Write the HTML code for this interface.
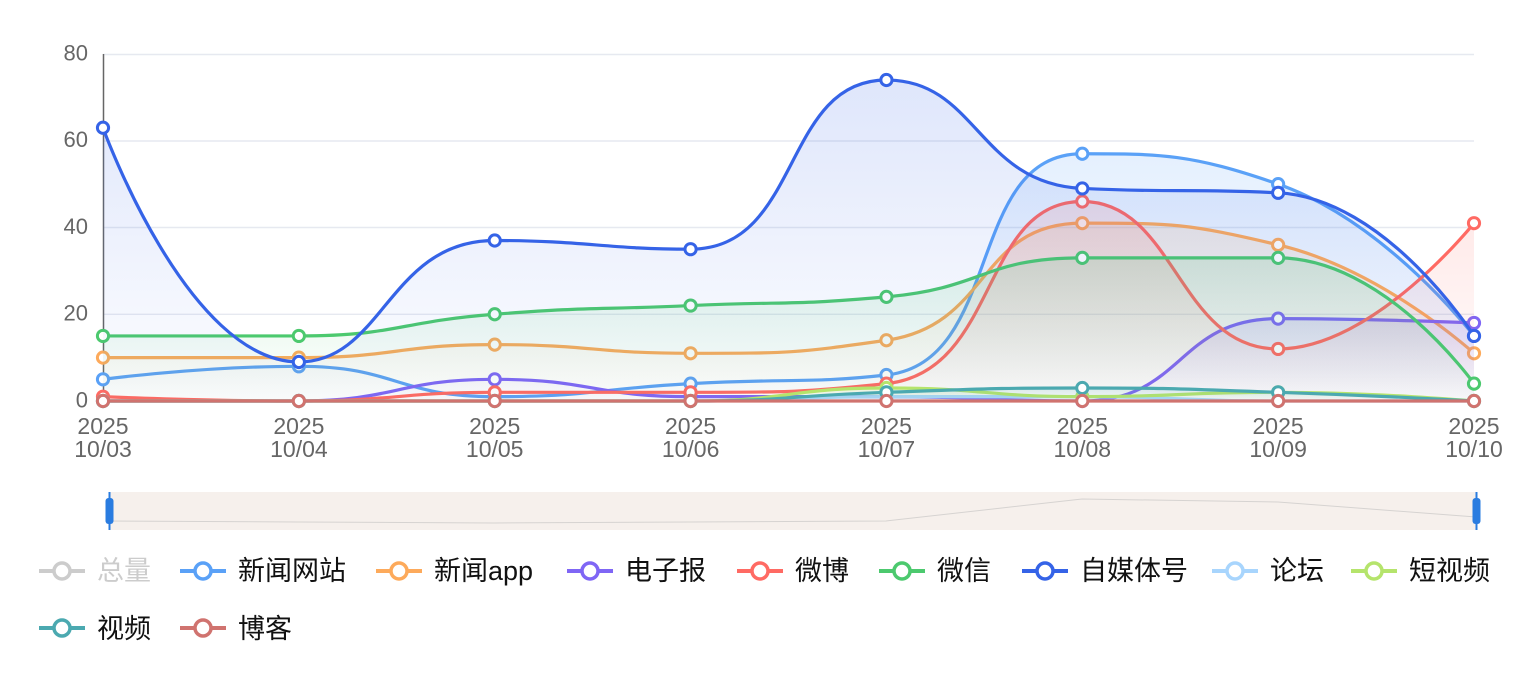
<!DOCTYPE html>
<html><head><meta charset="utf-8">
<style>
html,body{margin:0;padding:0;background:#fff;}
svg{display:block;}
.ax{font-family:"Liberation Sans",sans-serif;fill:#666666;}
.lg{font-family:"Liberation Sans","Noto Sans CJK SC",sans-serif;font-size:27px;fill:#111111;}
</style></head><body>
<svg id="c" width="1535" height="680" viewBox="0 0 1535 680" xmlns="http://www.w3.org/2000/svg">
<defs id="defs"></defs>
<rect x="0" y="0" width="1535" height="680" fill="#fff"/>
<g stroke="#E6E9F0" stroke-width="1.4">
 <line x1="103" y1="54.5" x2="1474" y2="54.5"/>
 <line x1="103" y1="141" x2="1474" y2="141"/>
 <line x1="103" y1="227.5" x2="1474" y2="227.5"/>
 <line x1="103" y1="314.3" x2="1474" y2="314.3"/>
</g>
<line x1="103.5" y1="54" x2="103.5" y2="401" stroke="#666666" stroke-width="1.5"/>
<line x1="103" y1="401.5" x2="1474" y2="401.5" stroke="#6E7079" stroke-width="1"/>
<g id="series"></g>

<g class="ax" font-size="22" text-anchor="end">
 <text x="88" y="60.5">80</text>
 <text x="88" y="147.2">60</text>
 <text x="88" y="234">40</text>
 <text x="88" y="320.7">20</text>
 <text x="88" y="407.5">0</text>
</g>
<g class="ax" font-size="23" text-anchor="middle">
 <text x="103" y="434">2025</text><text x="103" y="457">10/03</text>
 <text x="298.9" y="434">2025</text><text x="298.9" y="457">10/04</text>
 <text x="494.7" y="434">2025</text><text x="494.7" y="457">10/05</text>
 <text x="690.6" y="434">2025</text><text x="690.6" y="457">10/06</text>
 <text x="886.4" y="434">2025</text><text x="886.4" y="457">10/07</text>
 <text x="1082.3" y="434">2025</text><text x="1082.3" y="457">10/08</text>
 <text x="1278.1" y="434">2025</text><text x="1278.1" y="457">10/09</text>
 <text x="1474" y="434">2025</text><text x="1474" y="457">10/10</text>
</g>

<!-- data zoom slider -->
<rect x="110" y="492" width="1366" height="38" fill="#F6F0EC"/>
<polyline points="110,521 299,522 494,523 690,522 886,521 1082,499 1278,502 1476,517" fill="none" stroke="#D6D3D1" stroke-width="1"/>
<line x1="109.5" y1="492" x2="109.5" y2="530" stroke="#2A7CE0" stroke-width="2"/>
<rect x="105.5" y="498" width="8" height="26" rx="3" fill="#2A7CE0"/>
<line x1="1476.5" y1="492" x2="1476.5" y2="530" stroke="#2A7CE0" stroke-width="2"/>
<rect x="1472.5" y="498" width="8" height="26" rx="3" fill="#2A7CE0"/>

<!-- legend -->
<g id="legend"></g>
<text class="lg" x="97" y="580" style="fill:#CCCCCC">总量</text>
<text class="lg" x="238" y="580">新闻网站</text>
<text class="lg" x="434" y="580">新闻app</text>
<text class="lg" x="625" y="580">电子报</text>
<text class="lg" x="795" y="580">微博</text>
<text class="lg" x="937" y="580">微信</text>
<text class="lg" x="1080" y="580">自媒体号</text>
<text class="lg" x="1270" y="580">论坛</text>
<text class="lg" x="1409" y="580">短视频</text>
<text class="lg" x="97" y="638">视频</text>
<text class="lg" x="238" y="638">博客</text>
</svg>
<script>
(function(){
var NS="http://www.w3.org/2000/svg";
function X(i){return 103+i*(1371/7);}
function Y(v){return 401-v*4.3375;}
var series=[
 ['#5AA1F7',[5,8,1,4,6,57,50,15]],
 ['#FDAA5B',[10,10,13,11,14,41,36,11]],
 ['#7F66F5',[0,0,5,1,1,0,19,18]],
 ['#FF6A63',[1,0,2,2,4,46,12,41]],
 ['#4CC96E',[15,15,20,22,24,33,33,4]],
 ['#3563E7',[63,9,37,35,74,49,48,15]],
 ['#A8D5FD',[0,0,0,0,1,1,0,0]],
 ['#B5E46C',[0,0,0,0,3,1,2,0]],
 ['#4BA9B0',[0,0,0,0,2,3,2,0]],
 ['#D0736F',[0,0,0,0,0,0,0,0]]
];
function smoothPath(pts,s){
 var d='',px,py,c0x,c0y;
 for(var k=0;k<pts.length;k++){
  var x=pts[k][0],y=pts[k][1];
  if(k===0){d+='M'+x.toFixed(2)+','+y.toFixed(2);c0x=x;c0y=y;}
  else{
   var c1x,c1y,nx0,ny0;
   if(k+1>=pts.length){c1x=x;c1y=y;}
   else{
    var nx=pts[k+1][0],ny=pts[k+1][1];
    var vx=nx-px,vy=ny-py;
    var lp=Math.hypot(x-px,y-py),ln=Math.hypot(nx-x,ny-y);
    var r=ln/(ln+lp);
    nx0=x+vx*s*r;ny0=y+vy*s*r;
    nx0=Math.min(nx0,Math.max(nx,x));ny0=Math.min(ny0,Math.max(ny,y));
    nx0=Math.max(nx0,Math.min(nx,x));ny0=Math.max(ny0,Math.min(ny,y));
    vx=nx0-x;vy=ny0-y;
    c1x=x-vx*lp/ln;c1y=y-vy*lp/ln;
    c1x=Math.min(c1x,Math.max(px,x));c1y=Math.min(c1y,Math.max(py,y));
    c1x=Math.max(c1x,Math.min(px,x));c1y=Math.max(c1y,Math.min(py,y));
    vx=x-c1x;vy=y-c1y;
    nx0=x+vx*ln/lp;ny0=y+vy*ln/lp;
   }
   d+='C'+c0x.toFixed(2)+','+c0y.toFixed(2)+' '+c1x.toFixed(2)+','+c1y.toFixed(2)+' '+x.toFixed(2)+','+y.toFixed(2);
   c0x=nx0;c0y=ny0;
  }
  px=x;py=y;
 }
 return d;
}
function el(tag,attrs,parent){var e=document.createElementNS(NS,tag);for(var a in attrs)e.setAttribute(a,attrs[a]);if(parent)parent.appendChild(e);return e;}
var defs=document.getElementById('defs');
var g=document.getElementById('series');
series.forEach(function(s,i){
 var col=s[0],vals=s[1];
 var pts=vals.map(function(v,j){return [X(j),Y(v)];});
 var d=smoothPath(pts,0.5);
 var maxv=Math.max.apply(null,vals);
 if(maxv>0){
  var gr=el('linearGradient',{id:'g'+i,x1:'0',y1:'0',x2:'0',y2:'1'},defs);
  el('stop',{offset:'0','stop-color':col,'stop-opacity':'0.16'},gr);
  el('stop',{offset:'1','stop-color':col,'stop-opacity':'0.01'},gr);
  el('path',{d:d+'L'+X(7)+',401L'+X(0)+',401Z',fill:'url(#g'+i+')',stroke:'none'},g);
 }
 el('path',{d:d,fill:'none',stroke:col,'stroke-width':'3.2','stroke-linejoin':'round','stroke-linecap':'round'},g);
 pts.forEach(function(p){el('circle',{cx:p[0],cy:p[1],r:'5.6',fill:'#fff',stroke:col,'stroke-width':'3'},g);});
});
var lg=document.getElementById('legend');
var items=[['#CCCCCC',97,571],['#5AA1F7',238,571],['#FDAA5B',434,571],['#7F66F5',625,571],['#FF6A63',795,571],['#4CC96E',937,571],['#3563E7',1080,571],['#A8D5FD',1270,571],['#B5E46C',1409,571],['#4BA9B0',97,628],['#D0736F',238,628]];
items.forEach(function(it){
 var c=it[0],tx=it[1],cy=it[2];
 el('line',{x1:tx-58,y1:cy,x2:tx-12,y2:cy,stroke:c,'stroke-width':'4'},lg);
 el('circle',{cx:tx-35,cy:cy,r:'8',fill:'#fff',stroke:c,'stroke-width':'3.5'},lg);
});
})();
</script>
</body></html>
